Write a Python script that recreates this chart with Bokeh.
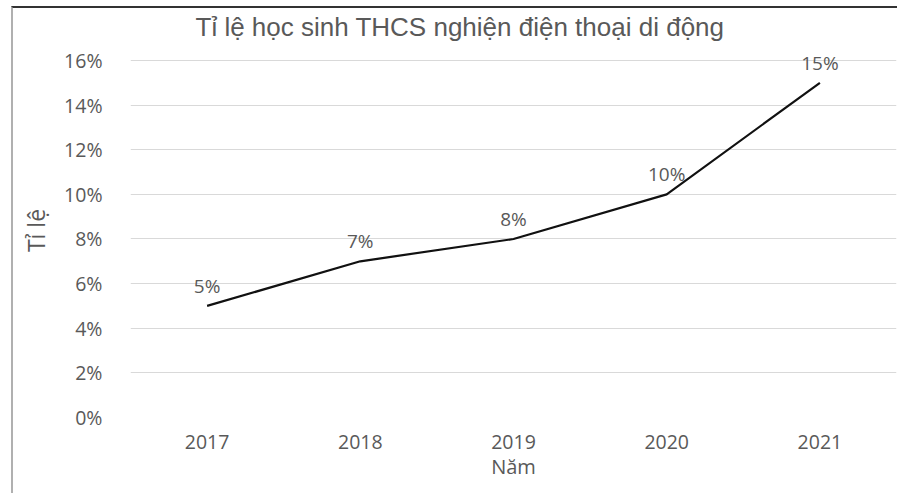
from bokeh.plotting import figure
from bokeh.models import FactorRange, Range1d, NumeralTickFormatter, FixedTicker, ColumnDataSource, Title, LabelSet
from bokeh.core.properties import value
from bokeh.embed import file_html
from bokeh.resources import INLINE

years = ["2017", "2018", "2019", "2020", "2021"]
rates = [0.05, 0.07, 0.08, 0.10, 0.15]
rate_labels = [f"{v:.0%}" for v in rates]
y_ticks = [0, 0.02, 0.04, 0.06, 0.08, 0.10, 0.12, 0.14, 0.16]

title_text = "Tỉ lệ học sinh THCS nghiện điện thoại di động"
x_label = "Năm"
y_label = "Tỉ lệ"

src = ColumnDataSource(dict(x=years, y=rates, t=rate_labels))

p = figure(width=886, height=487, x_range=FactorRange(*years), y_range=Range1d(0, 0.1676),
           output_backend="svg", toolbar_location=None,
           min_border_left=117, min_border_right=3, min_border_top=30, min_border_bottom=78)
p.margin = (6, 0, 0, 11)
p.styles = {"border-top": "2px solid #333333", "border-left": "2px solid #b0b0b0"}

p.title = Title(text=title_text, align="left", offset=65, text_font="Liberation Sans",
                text_font_size="26px", text_font_style="normal", text_color="#595959", standoff=3)
p.outline_line_color = None

p.line("x", "y", source=src, line_color="#111111", line_width=2.2)
labels = LabelSet(x="x", y="y", text="t", source=src, text_align="center", text_baseline="middle",
                  y_offset=20, text_font=value("Open Sans"), text_font_size=value("19px"),
                  text_color="#595959")
p.add_layout(labels)

p.yaxis.ticker = FixedTicker(ticks=y_ticks)
p.yaxis.formatter = NumeralTickFormatter(format="0%")
for ax in (p.xaxis[0], p.yaxis[0]):
    ax.axis_line_color = None
    ax.major_tick_line_color = None
    ax.minor_tick_line_color = None
    ax.major_label_text_font = "Open Sans"
    ax.major_label_text_font_size = "19.5px"
    ax.major_label_text_color = "#595959"
    ax.axis_label_text_font = "Open Sans"
    ax.axis_label_text_font_style = "normal"
    ax.axis_label_text_color = "#595959"
p.xaxis.axis_label = x_label
p.yaxis.axis_label = y_label
p.xaxis.axis_label_text_font_size = "20px"
p.yaxis.axis_label_text_font_size = "23px"
p.yaxis.major_label_standoff = 22
p.xaxis.major_label_standoff = 11
p.xaxis.axis_label_standoff = 1
p.yaxis.axis_label_standoff = 9

p.xgrid.grid_line_color = None
p.ygrid.grid_line_color = "#d9d9d9"
p.ygrid.grid_line_width = 1

open("out.html", "w").write(file_html(p, INLINE))
